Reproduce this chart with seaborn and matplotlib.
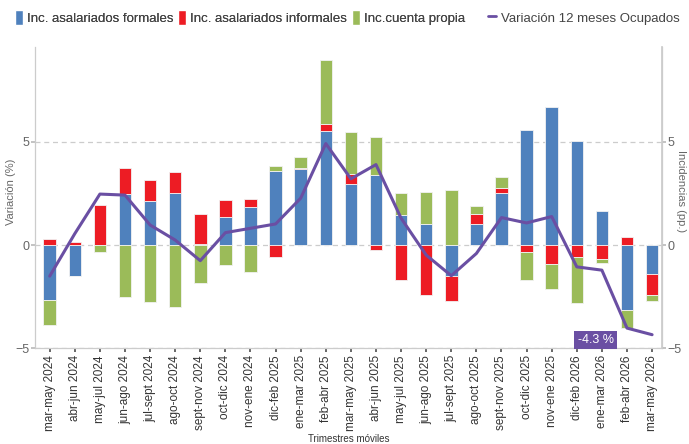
import numpy as np
import pandas as pd
import matplotlib
matplotlib.use('Agg')
import matplotlib.pyplot as plt
import seaborn as sns
from matplotlib.patches import Patch
from matplotlib.lines import Line2D

# Datos (puntos porcentuales / %)
trimestres = ['mar-may 2024', 'abr-jun 2024', 'may-jul 2024', 'jun-ago 2024', 'jul-sept 2024',
              'ago-oct 2024', 'sept-nov 2024', 'oct-dic 2024', 'nov-ene 2024', 'dic-feb 2025',
              'ene-mar 2025', 'feb-abr 2025', 'mar-may 2025', 'abr-jun 2025', 'may-jul 2025',
              'jun-ago 2025', 'jul-sept 2025', 'ago-oct 2025', 'sept-nov 2025', 'oct-dic 2025',
              'nov-ene 2025', 'dic-feb 2026', 'ene-mar 2026', 'feb-abr 2026', 'mar-may 2026']
formales = [-2.68, -1.48, 0.0, 2.47, 2.11, 2.50, 0.05, 1.36, 1.85, 3.59, 3.70, 5.54, 2.95,
            3.39, 1.46, 1.04, -1.49, 1.02, 2.53, 5.60, 6.67, 5.06, 1.64, -3.13, -1.40]
informales = [0.28, 0.16, 1.92, 1.25, 1.06, 1.04, 1.46, 0.83, 0.36, -0.60, 0.03, 0.35, 0.51,
              -0.24, -1.70, -2.42, -1.24, 0.49, 0.23, -0.34, -0.93, -0.60, -0.70, 0.39, -1.04]
cuenta_propia = [-1.18, -0.03, -0.36, -2.53, -2.76, -2.99, -1.82, -0.96, -1.30, 0.24, 0.54, 3.09, 2.03,
                 1.84, 1.06, 1.52, 2.68, 0.36, 0.55, -1.35, -1.21, -2.21, -0.16, -0.89, -0.27]
variacion_ocupados = [-1.51, 0.55, 2.47, 2.42, 0.97, 0.24, -0.76, 0.60, 0.81, 1.02, 2.27, 4.92, 3.21,
                      3.90, 1.30, -0.49, -1.49, -0.41, 1.33, 1.07, 1.38, -1.06, -1.22, -4.03, -4.35]

sns.set_theme(style='white')
plt.rcParams['font.family'] = ['Liberation Sans', 'DejaVu Sans']

df = pd.DataFrame({'trimestre': trimestres, 'formales': formales, 'informales': informales,
                   'cuenta': cuenta_propia, 'variacion': variacion_ocupados})

colores = {'formales': '#4F81BD', 'informales': '#ED1C24', 'cuenta': '#9BBB59'}
morado = '#6A4FA3'
gris = '#666666'

fig = plt.figure(figsize=(6.89, 4.44), dpi=100)
ax = fig.add_axes([0.051, 0.216, 0.910, 0.678])

# barras apiladas: positivos hacia arriba, negativos hacia abajo
n = len(df)
base_pos = np.zeros(n)
base_neg = np.zeros(n)
for col in ['formales', 'informales', 'cuenta']:
    vals = df[col].to_numpy()
    base = np.where(vals >= 0, base_pos, base_neg)
    sns.barplot(x='trimestre', y=col, data=df, color=colores[col], bottom=base, width=0.5,
                saturation=1, edgecolor='#f2f2f2', linewidth=0.6, errorbar=None, ax=ax)
    base_pos += np.clip(vals, 0, None)
    base_neg += np.clip(vals, None, 0)

sns.lineplot(x=np.arange(n), y=df['variacion'], color=morado, linewidth=2.2, ax=ax, zorder=5)

ax.set_xlim(-0.58, 24.4)
ax.set_ylim(-5, 9.6)
ax.set_yticks([-5, 0, 5])
ax.set_xticks(range(n))
ax.set_xticklabels(trimestres, rotation=90, fontsize=8.5, color='#333333')
ax.tick_params(axis='y', labelsize=9, labelcolor=gris, left=True, length=3, color='#bbbbbb', pad=1)
ax.tick_params(axis='x', bottom=True, length=3, color='#555555', pad=2)
ax.yaxis.grid(True, color='#cccccc', linestyle=(0, (4, 3)), linewidth=0.9)
ax.set_axisbelow(True)

ax.spines['top'].set_visible(False)
for s in ['left', 'right', 'bottom']:
    ax.spines[s].set_color('#cccccc')
    ax.spines[s].set_linewidth(0.9)

ax.set_ylabel('Variación (%)', fontsize=8, color=gris)
ax.yaxis.set_label_coords(-0.03, 0.52)
ax.set_xlabel('Trimestres móviles', fontsize=7, color='#333333')
ax.xaxis.set_label_coords(0.5, -0.285)

ax2 = ax.twinx()
ax2.set_ylim(ax.get_ylim())
ax2.set_yticks([-5, 0, 5])
ax2.tick_params(axis='y', labelsize=9, labelcolor=gris, right=True, length=3, color='#bbbbbb', pad=1)
for s in ['top', 'left', 'bottom']:
    ax2.spines[s].set_visible(False)
ax2.spines['right'].set_color('#cccccc')
ax2.set_ylabel('Incidencias (pp.)', fontsize=8, color=gris, rotation=270, va='center', ha='center')
ax2.yaxis.set_label_coords(1.03, 0.52)

ax.text(21.75, -4.6, '-4.3 %', color='white', fontsize=9, ha='center', va='center', zorder=6,
        bbox=dict(boxstyle='square,pad=0.25', facecolor=morado, edgecolor='none'))

handles = [Patch(facecolor=colores['formales']), Patch(facecolor=colores['informales']),
           Patch(facecolor=colores['cuenta']), Line2D([], [], color=morado, linewidth=2)]
labels = ['Inc. asalariados formales', 'Inc. asalariados informales', 'Inc.cuenta propia',
          'Variación 12 meses Ocupados']
leg1 = fig.legend(handles[:3], labels[:3], loc='upper left', bbox_to_anchor=(0.01, 0.995), ncol=3,
                  frameon=False, fontsize=9.5, handlelength=0.6, handleheight=1.3, handletextpad=0.3,
                  columnspacing=0.4, labelcolor='#444444', borderaxespad=0.2)
fig.add_artist(leg1)
fig.legend(handles[3:], labels[3:], loc='upper right', bbox_to_anchor=(0.998, 0.995), ncol=1,
           frameon=False, fontsize=9.5, handlelength=0.6, handleheight=1.3, handletextpad=0.4,
           labelcolor='#444444', borderaxespad=0.2)

fig.savefig('out.png', dpi=100)
